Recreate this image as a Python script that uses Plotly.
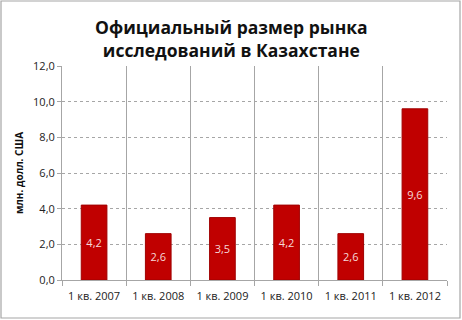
import plotly.graph_objects as go

categories = ["1 кв. 2007", "1 кв. 2008", "1 кв. 2009", "1 кв. 2010", "1 кв. 2011", "1 кв. 2012"]
values = [4.2, 2.6, 3.5, 4.2, 2.6, 9.6]
labels = ["4,2", "2,6", "3,5", "4,2", "2,6", "9,6"]
y_ticks = [0, 2, 4, 6, 8, 10, 12]
title_text = "<b>Официальный размер рынка<br>исследований в Казахстане</b>"
y_title = "млн. долл. США"

W, H = 462, 320
L, R, T, B = 62, 15, 66, 40
PH = H - T - B
PW = W - L - R


def py(p):
    return (H - B - p) / PH


def px(p):
    return (p - L) / PW


fig = go.Figure(go.Bar(
    x=categories, y=values, text=labels,
    textposition="inside", insidetextanchor="middle",
    textfont=dict(family="Open Sans", size=11, color="#F6D8D8"),
    marker=dict(color="#C00000", line=dict(color="#A00000", width=1)),
    width=0.4,
))

fig.update_layout(
    width=W, height=H,
    margin=dict(l=L, r=R, t=T, b=B),
    paper_bgcolor="white", plot_bgcolor="white",
    separators=", ",
    showlegend=False,
    xaxis=dict(
        type="category", tickson="boundaries",
        showgrid=True, gridcolor="#A6A6A6", gridwidth=1,
        showline=True, linecolor="#A6A6A6", linewidth=1,
        ticks="outside", ticklen=5, tickcolor="#A6A6A6",
        ticklabelstandoff=6,
        tickfont=dict(family="Open Sans", size=11, color="#222222"),
    ),
    yaxis=dict(
        range=[0, 12], tickvals=y_ticks, tickformat=".1f",
        showgrid=True, gridcolor="#A6A6A6", griddash="3px,3px", gridwidth=1,
        showline=True, linecolor="#A6A6A6", linewidth=1,
        ticks="outside", ticklen=4, tickcolor="#A6A6A6",
        tickfont=dict(family="Open Sans", size=11, color="#222222"),
        title=dict(text="<b>" + y_title + "</b>", standoff=7,
                   font=dict(family="Open Sans", size=10, color="#111111")),
        zeroline=False,
    ),
)

fig.add_annotation(text=title_text, xref="paper", yref="paper",
                   x=px(231), y=py(38), xanchor="center", yanchor="middle",
                   showarrow=False,
                   font=dict(family="Open Sans", size=17.5, color="#111111"))

# outer chart border
fig.add_shape(type="rect", xref="paper", yref="paper",
              x0=px(1), x1=px(460), y0=py(318), y1=py(1),
              line=dict(color="#A6A6A6", width=1.2), fillcolor="rgba(0,0,0,0)", layer="above")

fig.write_html("out.html")
